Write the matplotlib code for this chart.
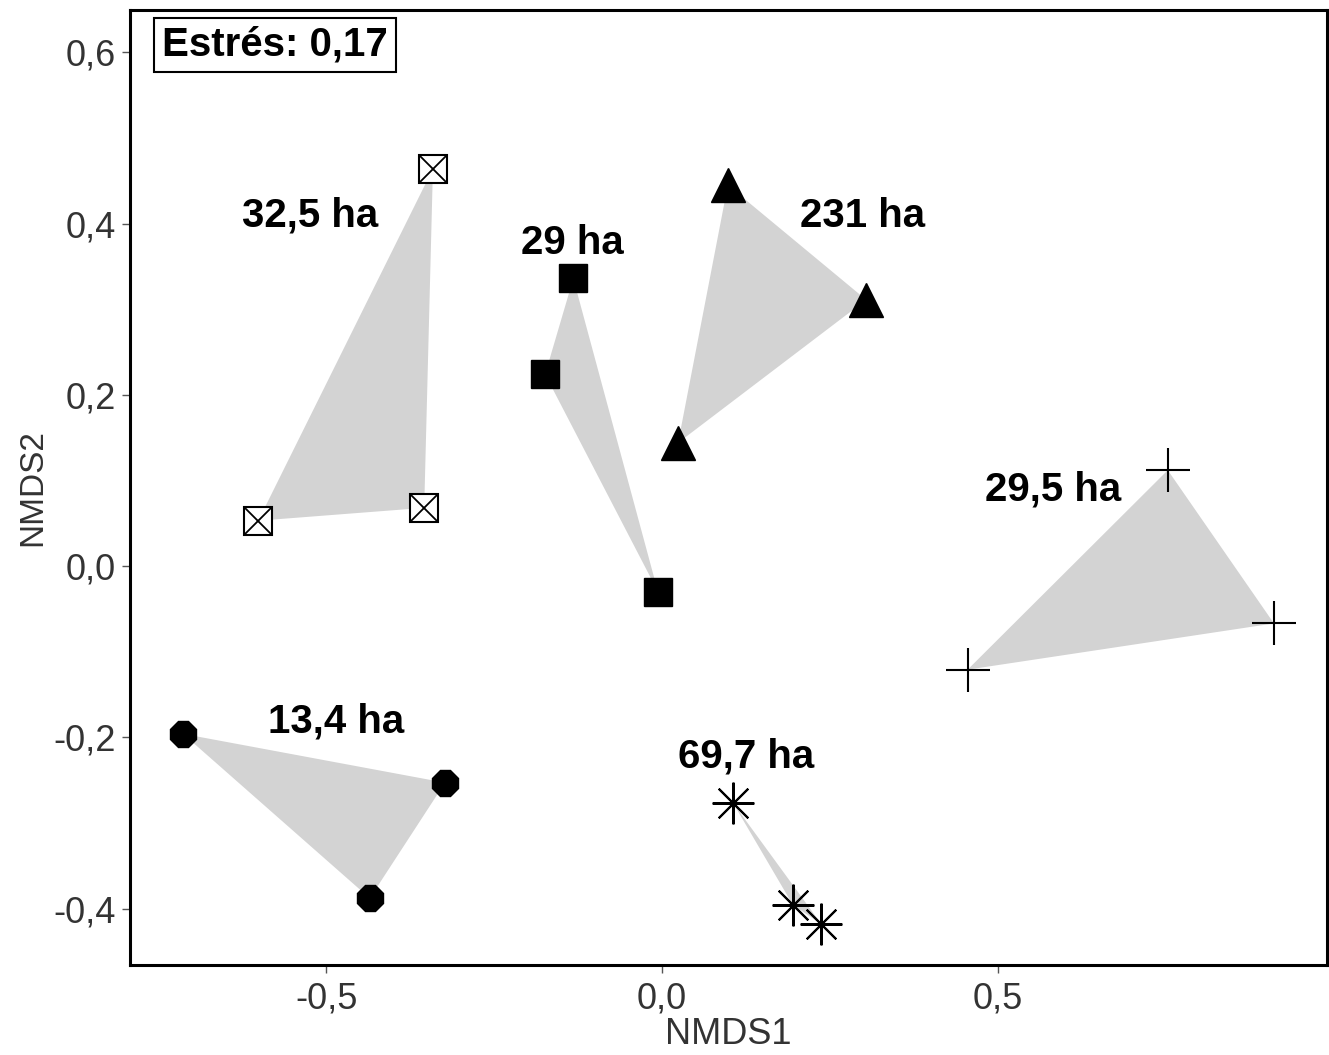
import matplotlib
matplotlib.use("Agg")
import matplotlib.pyplot as plt

# NMDS scores per site (three plots each)
groups = ["32,5 ha", "29 ha", "231 ha", "29,5 ha", "13,4 ha", "69,7 ha"]
nmds1 = [
    [-0.341, -0.601, -0.354],
    [-0.132, -0.174, -0.006],
    [0.098, 0.304, 0.024],
    [0.753, 0.911, 0.455],
    [-0.713, -0.323, -0.435],
    [0.106, 0.195, 0.237],
]
nmds2 = [
    [0.464, 0.053, 0.068],
    [0.336, 0.224, -0.030],
    [0.445, 0.311, 0.144],
    [0.112, -0.067, -0.121],
    [-0.196, -0.253, -0.388],
    [-0.277, -0.396, -0.418],
]
label_x = [-0.524, -0.134, 0.298, 0.583, -0.485, 0.125]
label_y = [0.409, 0.377, 0.409, 0.089, -0.181, -0.222]
stress = "Estrés: 0,17"

xticks = [-0.5, 0.0, 0.5]
yticks = [-0.4, -0.2, 0.0, 0.2, 0.4, 0.6]

plt.rcParams["font.family"] = ["Liberation Sans", "DejaVu Sans"]

fig = plt.figure(figsize=(13.29, 10.55), dpi=100)
ax = fig.add_axes([0.0978, 0.0853, 0.9007, 0.9052])

# convex hulls (triangles) in grey
for xs, ys in zip(nmds1, nmds2):
    ax.fill(xs, ys, color="#d3d3d3", lw=0, zorder=1)

# markers, one style per site
ax.plot(nmds1[0], nmds2[0], ls="none", marker="s", ms=20, mfc="white",
        mec="black", mew=1.5, zorder=3)
ax.plot(nmds1[0], nmds2[0], ls="none", marker="x", ms=20, mec="black",
        mew=1.3, zorder=4)
ax.plot(nmds1[1], nmds2[1], ls="none", marker="s", ms=20, color="black", zorder=3)
ax.plot(nmds1[2], nmds2[2], ls="none", marker="^", ms=25, color="black", zorder=3)
ax.plot(nmds1[3], nmds2[3], ls="none", marker="+", ms=32, mec="black",
        mew=1.5, zorder=3)
ax.plot(nmds1[4], nmds2[4], ls="none", marker="8", ms=20, color="black", zorder=3)
ax.plot(nmds1[5], nmds2[5], ls="none", marker=(8, 2, 0), ms=30, mec="black",
        mew=1.5, zorder=3)

for name, lx, ly in zip(groups, label_x, label_y):
    ax.text(lx, ly, name, ha="center", va="center", fontsize=29,
            fontweight="bold", zorder=5)

ax.text(0.1211, 0.9634, stress, transform=ax.transAxes, ha="center",
        va="center", fontsize=29, fontweight="bold",
        bbox=dict(boxstyle="square,pad=0.2", fc="white", ec="black", lw=1.5))

ax.set_xlim(-0.792, 0.990)
ax.set_ylim(-0.466, 0.6495)
ax.set_xticks(xticks)
ax.set_xticklabels([f"{v:.1f}".replace(".", ",") for v in xticks],
                   fontsize=26, color="#333333")
ax.set_yticks(yticks)
ax.set_yticklabels([f"{v:.1f}".replace(".", ",") for v in yticks],
                   fontsize=26, color="#333333")
ax.tick_params(length=6, width=1, color="#555555")
ax.tick_params(axis="x", pad=6)
ax.tick_params(axis="y", pad=4)
ax.set_xlabel("NMDS1", fontsize=26, color="#333333", labelpad=0)
ax.set_ylabel("NMDS2", fontsize=24, color="#333333", labelpad=4)

for s in ax.spines.values():
    s.set_linewidth(2.2)

fig.savefig("out.png", dpi=100)
